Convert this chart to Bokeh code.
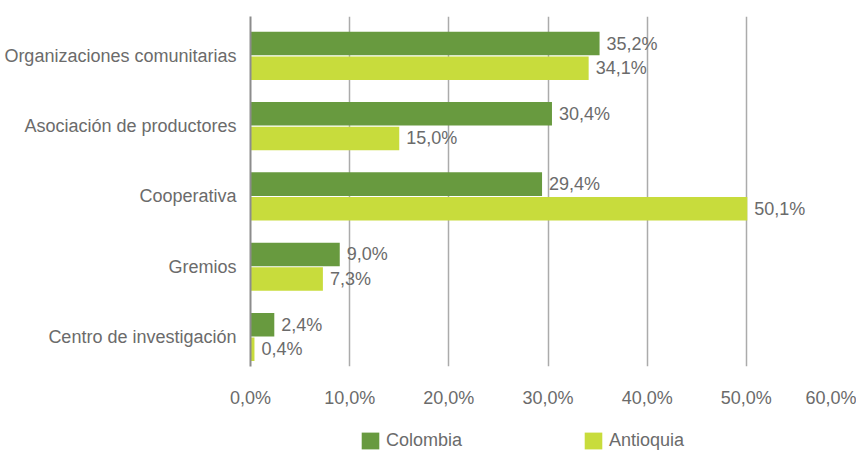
from bokeh.plotting import figure
from bokeh.layouts import column
from bokeh.models import ColumnDataSource, FixedTicker, Range1d, Legend, LegendItem
from bokeh.transform import dodge
from bokeh.core.properties import value
from bokeh.embed import file_html
from bokeh.resources import INLINE

categories = ["Organizaciones comunitarias", "Asociación de productores",
              "Cooperativa", "Gremios", "Centro de investigación"]
colombia = [35.2, 30.4, 29.4, 9.0, 2.4]
antioquia = [34.1, 15.0, 50.1, 7.3, 0.4]
x_ticks = [0, 10, 20, 30, 40, 50, 60]
x_tick_labels = ["0,0%", "10,0%", "20,0%", "30,0%", "40,0%", "50,0%", "60,0%"]
series_names = ["Colombia", "Antioquia"]

C_COL = "#689a3f"
C_ANT = "#c8dc3c"
TXT = "#6b6b6b"
FONT = "Liberation Sans"
FS = "18px"

def fmt(v):
    return f"{v:.1f}%".replace(".", ",")

pos = list(range(len(categories)))[::-1]
src = ColumnDataSource(dict(
    pos=pos, colombia=colombia, antioquia=antioquia,
    col_lbl=[fmt(v) for v in colombia], ant_lbl=[fmt(v) for v in antioquia],
))

p = figure(width=856, height=430, output_backend="svg", toolbar_location=None,
           x_range=Range1d(0, 60), y_range=Range1d(-0.42, 4.56),
           min_border_left=250, min_border_right=11, min_border_top=16,
           min_border_bottom=64)
p.outline_line_color = None
p.background_fill_color = "white"

p.hbar(y=dodge("pos", 0.175), right="colombia", left=0, height=0.335,
       source=src, color=C_COL, line_color=None)
p.hbar(y=dodge("pos", -0.175), right="antioquia", left=0, height=0.335,
       source=src, color=C_ANT, line_color=None)

p.text(x="colombia", y=dodge("pos", 0.175), text="col_lbl", source=src,
       x_offset=7, text_baseline="middle", text_align="left",
       text_font=value(FONT), text_font_size=FS, text_color=TXT)
p.text(x="antioquia", y=dodge("pos", -0.175), text="ant_lbl", source=src,
       x_offset=7, text_baseline="middle", text_align="left",
       text_font=value(FONT), text_font_size=FS, text_color=TXT)

# x axis
xa = p.xaxis[0]
xa.ticker = FixedTicker(ticks=x_ticks)
xa.major_label_overrides = {t: l for t, l in zip(x_ticks, x_tick_labels)}
xa.axis_line_color = None
xa.major_tick_line_color = None
xa.minor_tick_line_color = None
xa.major_tick_out = 0
xa.major_tick_in = 0
xa.major_label_standoff = 21
xa.major_label_text_font = FONT
xa.major_label_text_font_size = FS
xa.major_label_text_color = TXT

# y axis
ya = p.yaxis[0]
ya.ticker = FixedTicker(ticks=pos)
ya.major_label_overrides = {pp: c for pp, c in zip(pos, categories)}
ya.axis_line_color = "#8c8c8c"
ya.axis_line_width = 2
ya.major_tick_line_color = None
ya.minor_tick_line_color = None
ya.major_tick_out = 0
ya.major_tick_in = 0
ya.major_label_standoff = 14
ya.major_label_text_font = FONT
ya.major_label_text_font_size = FS
ya.major_label_text_color = TXT

p.ygrid.grid_line_color = None
p.xgrid.ticker = FixedTicker(ticks=x_ticks[1:])
p.xgrid.grid_line_color = "#ababab"
p.xgrid.grid_line_width = 1.5

# legend strip below the chart (its frame aligns with the chart's frame)
lg = figure(width=856, height=21, output_backend="svg", toolbar_location=None,
            x_range=Range1d(0, 60), y_range=Range1d(100, 101),
            x_axis_type=None, y_axis_type=None,
            min_border_left=250, min_border_right=11, min_border_top=0,
            min_border_bottom=0)
lg.outline_line_color = None
lg.grid.visible = False
g1 = lg.hbar(y="pos", right="colombia", left=0, height=0.3, source=src,
             color=C_COL, line_color=None)
g2 = lg.hbar(y="pos", right="antioquia", left=0, height=0.3, source=src,
             color=C_ANT, line_color=None)
legend = Legend(items=[LegendItem(label=series_names[0], renderers=[g1]),
                       LegendItem(label=series_names[1], renderers=[g2])],
                orientation="horizontal", location=(109, 0),
                glyph_width=22, glyph_height=21, label_standoff=5,
                label_width=180, spacing=16, padding=0, margin=0,
                border_line_color=None, background_fill_alpha=0,
                label_text_font=FONT, label_text_font_size=FS,
                label_text_color=TXT)
lg.add_layout(legend, "center")

layout = column(p, lg, spacing=0)
open("out.html", "w").write(file_html(layout, INLINE))
